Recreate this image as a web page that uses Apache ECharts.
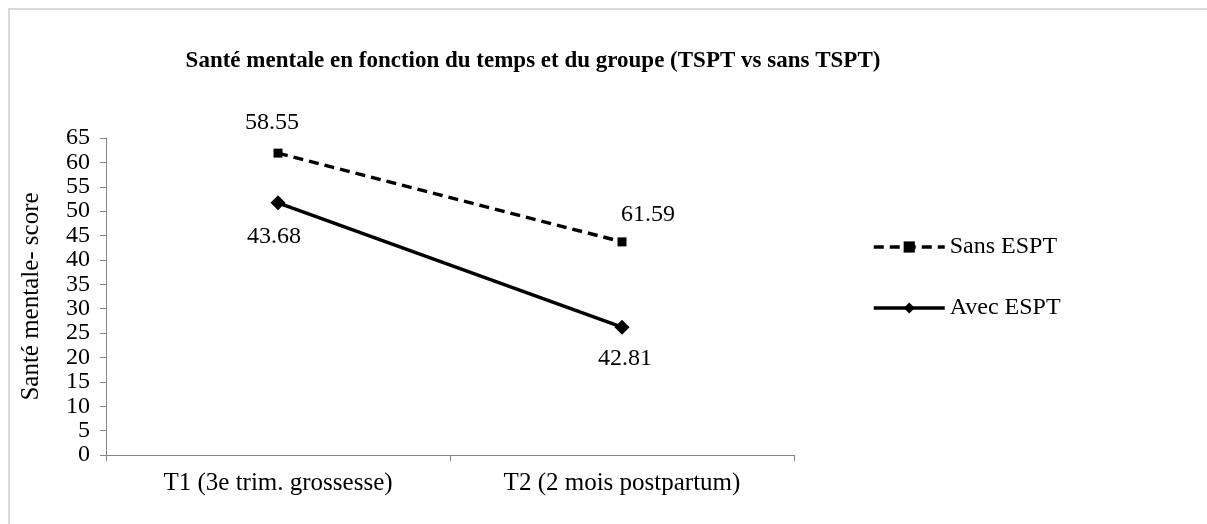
<!DOCTYPE html>
<html>
<head>
<meta charset="utf-8">
<script src="https://cdn.jsdelivr.net/npm/echarts@6/dist/echarts.min.js"></script>
<style>
  html, body { margin: 0; padding: 0; background: #fff; }
  #chart { width: 1207px; height: 524px; }
</style>
</head>
<body>
<div id="chart"></div>
<script>
// donnees
var categories = ['T1 (3e trim. grossesse)', 'T2 (2 mois postpartum)'];
var sansEspt = [61.9, 43.7];
var avecEspt = [51.7, 26.2];
// etiquettes affichees (texte d'origine, pas les valeurs tracees)
var sansLabels = ['58.55', '61.59'];
var avecLabels = ['43.68', '42.81'];
var yTicks = { min: 0, max: 65, step: 5 };

var FONT = '"Liberation Serif", "DejaVu Serif", serif';

var myChart = echarts.init(document.getElementById('chart'));

function labelled(values, texts, pos, offsets) {
  return values.map(function (v, i) {
    return {
      value: v,
      label: {
        show: true,
        position: pos,
        offset: offsets[i],
        formatter: texts[i],
        fontFamily: FONT,
        fontSize: 24,
        color: '#000'
      }
    };
  });
}

myChart.setOption({
  animation: false,
  backgroundColor: '#fff',
  title: {
    text: 'Santé mentale en fonction du temps et du groupe (TSPT vs sans TSPT)',
    left: 528,
    textAlign: 'center',
    top: 45,
    textStyle: {
      fontFamily: FONT,
      fontSize: 23,
      fontWeight: 'bold',
      color: '#000'
    }
  },
  graphic: [{
    type: 'rect',
    shape: { x: 9, y: 9, width: 1220, height: 540 },
    style: { fill: 'none', stroke: '#d9d9d9', lineWidth: 2 },
    silent: true
  }],
  legend: {
    orient: 'vertical',
    left: 867,
    top: 230,
    itemWidth: 71,
    itemHeight: 14,
    itemGap: 37,
    lineStyle: { width: 3.5 },
    textStyle: { fontFamily: FONT, fontSize: 24, color: '#000' },
    data: ['Sans ESPT', 'Avec ESPT']
  },
  grid: {
    left: 106,
    right: 413,
    top: 138,
    bottom: 69,
    containLabel: false
  },
  xAxis: {
    type: 'category',
    data: categories,
    boundaryGap: true,
    axisLine: { lineStyle: { color: '#868686', width: 1 } },
    axisTick: { show: true, alignWithLabel: false, length: 6, lineStyle: { color: '#868686' } },
    axisLabel: {
      fontFamily: FONT,
      fontSize: 25,
      color: '#000',
      margin: 16
    },
    splitLine: { show: false }
  },
  yAxis: {
    type: 'value',
    min: yTicks.min,
    max: yTicks.max,
    interval: yTicks.step,
    name: 'Santé mentale- score',
    nameLocation: 'middle',
    nameGap: 62,
    nameTextStyle: { fontFamily: FONT, fontSize: 25, color: '#000' },
    axisLine: { show: true, lineStyle: { color: '#868686', width: 1 } },
    axisTick: { show: true, length: 6, lineStyle: { color: '#868686' } },
    axisLabel: {
      fontFamily: FONT,
      fontSize: 24,
      color: '#000',
      margin: 16
    },
    splitLine: { show: false }
  },
  series: [
    {
      name: 'Sans ESPT',
      type: 'line',
      data: labelled(sansEspt, sansLabels, 'top', [[-6, -9], [26, -6]]),
      symbol: 'rect',
      symbolSize: 9,
      itemStyle: { color: '#000' },
      lineStyle: { color: '#000', width: 3.5, type: [10, 6] }
    },
    {
      name: 'Avec ESPT',
      type: 'line',
      data: labelled(avecEspt, avecLabels, 'bottom', [[-4, 9], [3, 7]]),
      symbol: 'diamond',
      symbolSize: 15,
      itemStyle: { color: '#000' },
      lineStyle: { color: '#000', width: 3.5, type: 'solid' }
    }
  ]
});
</script>
</body>
</html>
